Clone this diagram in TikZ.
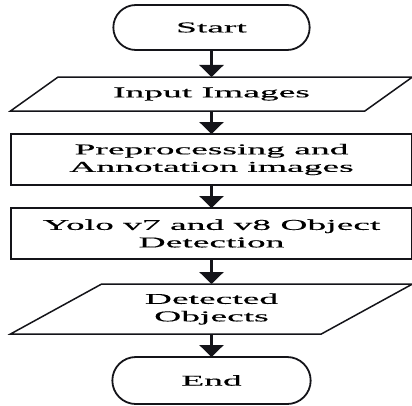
\documentclass[tikz,border=0pt]{standalone}
\usepackage{fontspec}
\setmainfont{Liberation Serif}[FakeStretch=2.5, FakeBold=0.3]
\usepackage{tikz}
\usetikzlibrary{arrows.meta, positioning, shapes.geometric, shapes.misc}
\usepackage{xcolor}
\definecolor{InkBlack}{RGB}{20, 20, 25}
\tikzset{%
  terminal/.style={%
    rounded rectangle,%
    draw=InkBlack,%
    line width=1.8pt,%
    outer sep=0pt,%
    minimum width=203pt,%
    minimum height=45pt,%
    font={\fontsize{15}{17.5}\selectfont},%
    align=center%
  },
  io/.style={%
    trapezium,%
    trapezium left angle=22.5,%
    trapezium right angle=157.5,%
    trapezium stretches body,%
    draw=InkBlack,%
    line width=1.5pt,%
    outer sep=0pt,%
    minimum width=402pt,%
    font={\fontsize{15}{17.5}\selectfont},%
    align=center%
  },
  process/.style={%
    rectangle,%
    draw=InkBlack,%
    line width=1.5pt,%
    outer sep=0pt,%
    minimum width=401pt,%
    minimum height=51pt,%
    font={\fontsize{15}{17.5}\selectfont},%
    align=center%
  },
  flow_path/.style={%
    color=InkBlack,%
    line width=2.6pt,%
  },
  arrow/.style={-{Triangle[width=24pt, length=12pt]}},
}
\begin{document}
\begin{tikzpicture}[x=1pt, y=-1pt]

    \useasboundingbox (0, 0) rectangle (412, 406);

    \node [terminal] (Start) at (211.5, 27.5) {%
      Start%
    };
    \node [io, minimum height=34pt, below = 27pt of Start] (Input) {%
      Input Images%
    };
    \node [process, below = 23pt of Input] (Prep) {%
      Preprocessing and\\Annotation images%
    };
    \node [process, below = 23pt of Prep] (Yolo) {%
      Yolo v7 and v8 Object\\Detection%
    };
    \node [io, minimum height=50pt, below = 25pt of Yolo] (Detected) {%
      Detected\\Objects%
    };
    \node [terminal, minimum width=205pt, minimum height=47pt,
      below = 23pt of Detected] (End) {%
      End%
    };

    \draw [arrow, flow_path]
      (Start.south)
      --
      (Input.north);
    \draw [arrow, flow_path]
      (Input.south)
      --
      (Prep.north);
    \draw [arrow, flow_path]
      (Prep.south)
      --
      (Yolo.north);
    \draw [arrow, flow_path]
      (Yolo.south)
      --
      (Detected.north);
    \draw [arrow, flow_path]
      (Detected.south)
      --
      (End.north);
  \end{tikzpicture}
\end{document}
